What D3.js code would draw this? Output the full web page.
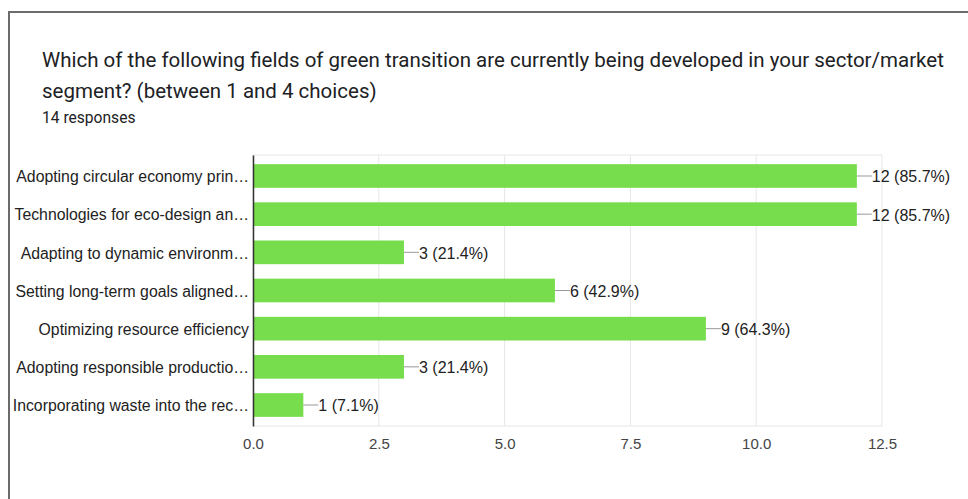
<!DOCTYPE html>
<html>
<head>
<meta charset="utf-8">
<script src="https://cdn.jsdelivr.net/npm/d3@7"></script>
<style>
  body { margin: 0; background: #fff; }
  svg { display: block; }
</style>
</head>
<body>
<div id="chart"></div>
<script>
// Data
const titleLines = [
  "Which of the following fields of green transition are currently being developed in your sector/market",
  "segment? (between 1 and 4 choices)"
];
const subtitle = "14 responses";
const categories = [
  "Adopting circular economy prin…",
  "Technologies for eco-design an…",
  "Adapting to dynamic environm…",
  "Setting long-term goals aligned…",
  "Optimizing resource efficiency",
  "Adopting responsible productio…",
  "Incorporating waste into the rec…"
];
const counts = [12, 12, 3, 6, 9, 3, 1];
const percents = ["85.7%", "85.7%", "21.4%", "42.9%", "64.3%", "21.4%", "7.1%"];
const xTicks = [0, 2.5, 5, 7.5, 10, 12.5];

const W = 968, H = 499;
const plot = {left: 253, right: 882, top: 155, bottom: 426};
const chartFont = "'Liberation Sans', Arial, sans-serif";

const svg = d3.select("#chart")
  .append("svg")
    .attr("width", W)
    .attr("height", H);

// card border
svg.append("path")
  .attr("d", `M9,${H} V12 H${W}`)
  .attr("fill", "none")
  .attr("stroke", "#6b6b6b")
  .attr("stroke-width", 2);

// title
svg.append("g")
  .selectAll("text")
  .data(titleLines)
  .join("text")
    .attr("x", 42)
    .attr("y", (d, i) => 67 + i * 31)
    .attr("font-family", "Roboto, sans-serif")
    .attr("font-size", 20.5)
    .attr("fill", "#202124")
    .text(d => d);

svg.append("text")
  .attr("x", 42)
  .attr("y", 123)
  .attr("font-family", "Roboto, sans-serif")
  .attr("font-size", 15.6)
  .attr("fill", "#202124")
  .text(subtitle);

// scales
const x = d3.scaleLinear()
  .domain([0, 12.5])
  .range([plot.left, plot.right]);

const y = d3.scaleBand()
  .domain(categories)
  .range([plot.top, plot.bottom])
  .paddingInner(0.38)
  .paddingOuter(0.24);

// grid
svg.append("g")
  .selectAll("line")
  .data(xTicks)
  .join("line")
    .attr("x1", d => x(d))
    .attr("x2", d => x(d))
    .attr("y1", plot.top)
    .attr("y2", plot.bottom)
    .attr("stroke", "#e6e6e6")
    .attr("stroke-width", 1);

svg.append("g")
  .selectAll("line")
  .data([plot.top, plot.bottom])
  .join("line")
    .attr("x1", plot.left)
    .attr("x2", x(12.5))
    .attr("y1", d => d)
    .attr("y2", d => d)
    .attr("stroke", "#e6e6e6");

// x axis labels
const xAxis = svg.append("g")
  .attr("transform", `translate(0,${plot.bottom + 9})`)
  .call(d3.axisBottom(x).tickValues(xTicks).tickFormat(d3.format(".1f")).tickSize(0));
xAxis.select(".domain").remove();
xAxis.selectAll("text")
  .attr("font-family", chartFont)
  .attr("font-size", 15)
  .attr("fill", "#444");

// bars
const data = categories.map((c, i) => ({cat: c, value: counts[i], pct: percents[i]}));

svg.append("g")
  .selectAll("rect")
  .data(data)
  .join("rect")
    .attr("x", x(0))
    .attr("y", d => y(d.cat))
    .attr("width", d => x(d.value) - x(0))
    .attr("height", y.bandwidth())
    .attr("fill", "#77dd4c");

// y axis line + category labels
const yAxis = svg.append("g")
  .attr("transform", `translate(${plot.left},0)`)
  .call(d3.axisLeft(y).tickSize(0).tickPadding(4));
yAxis.select(".domain")
  .attr("stroke", "#333")
  .attr("stroke-width", 1.5);
yAxis.selectAll("text")
  .attr("dy", "0.4em")
  .attr("font-family", chartFont)
  .attr("font-size", 15.8)
  .attr("fill", "#222");

// value labels with leader lines
const labels = svg.append("g")
  .selectAll("g")
  .data(data)
  .join("g")
    .attr("transform", d => `translate(${x(d.value)},${y(d.cat) + y.bandwidth() / 2})`);

labels.append("line")
  .attr("x1", 0)
  .attr("x2", 15)
  .attr("stroke", "#999")
  .attr("stroke-width", 1);

labels.append("text")
  .attr("x", 15)
  .attr("dy", "0.4em")
  .attr("font-family", chartFont)
  .attr("font-size", 16)
  .attr("fill", "#222")
  .text(d => `${d.value} (${d.pct})`);
</script>
</body>
</html>
